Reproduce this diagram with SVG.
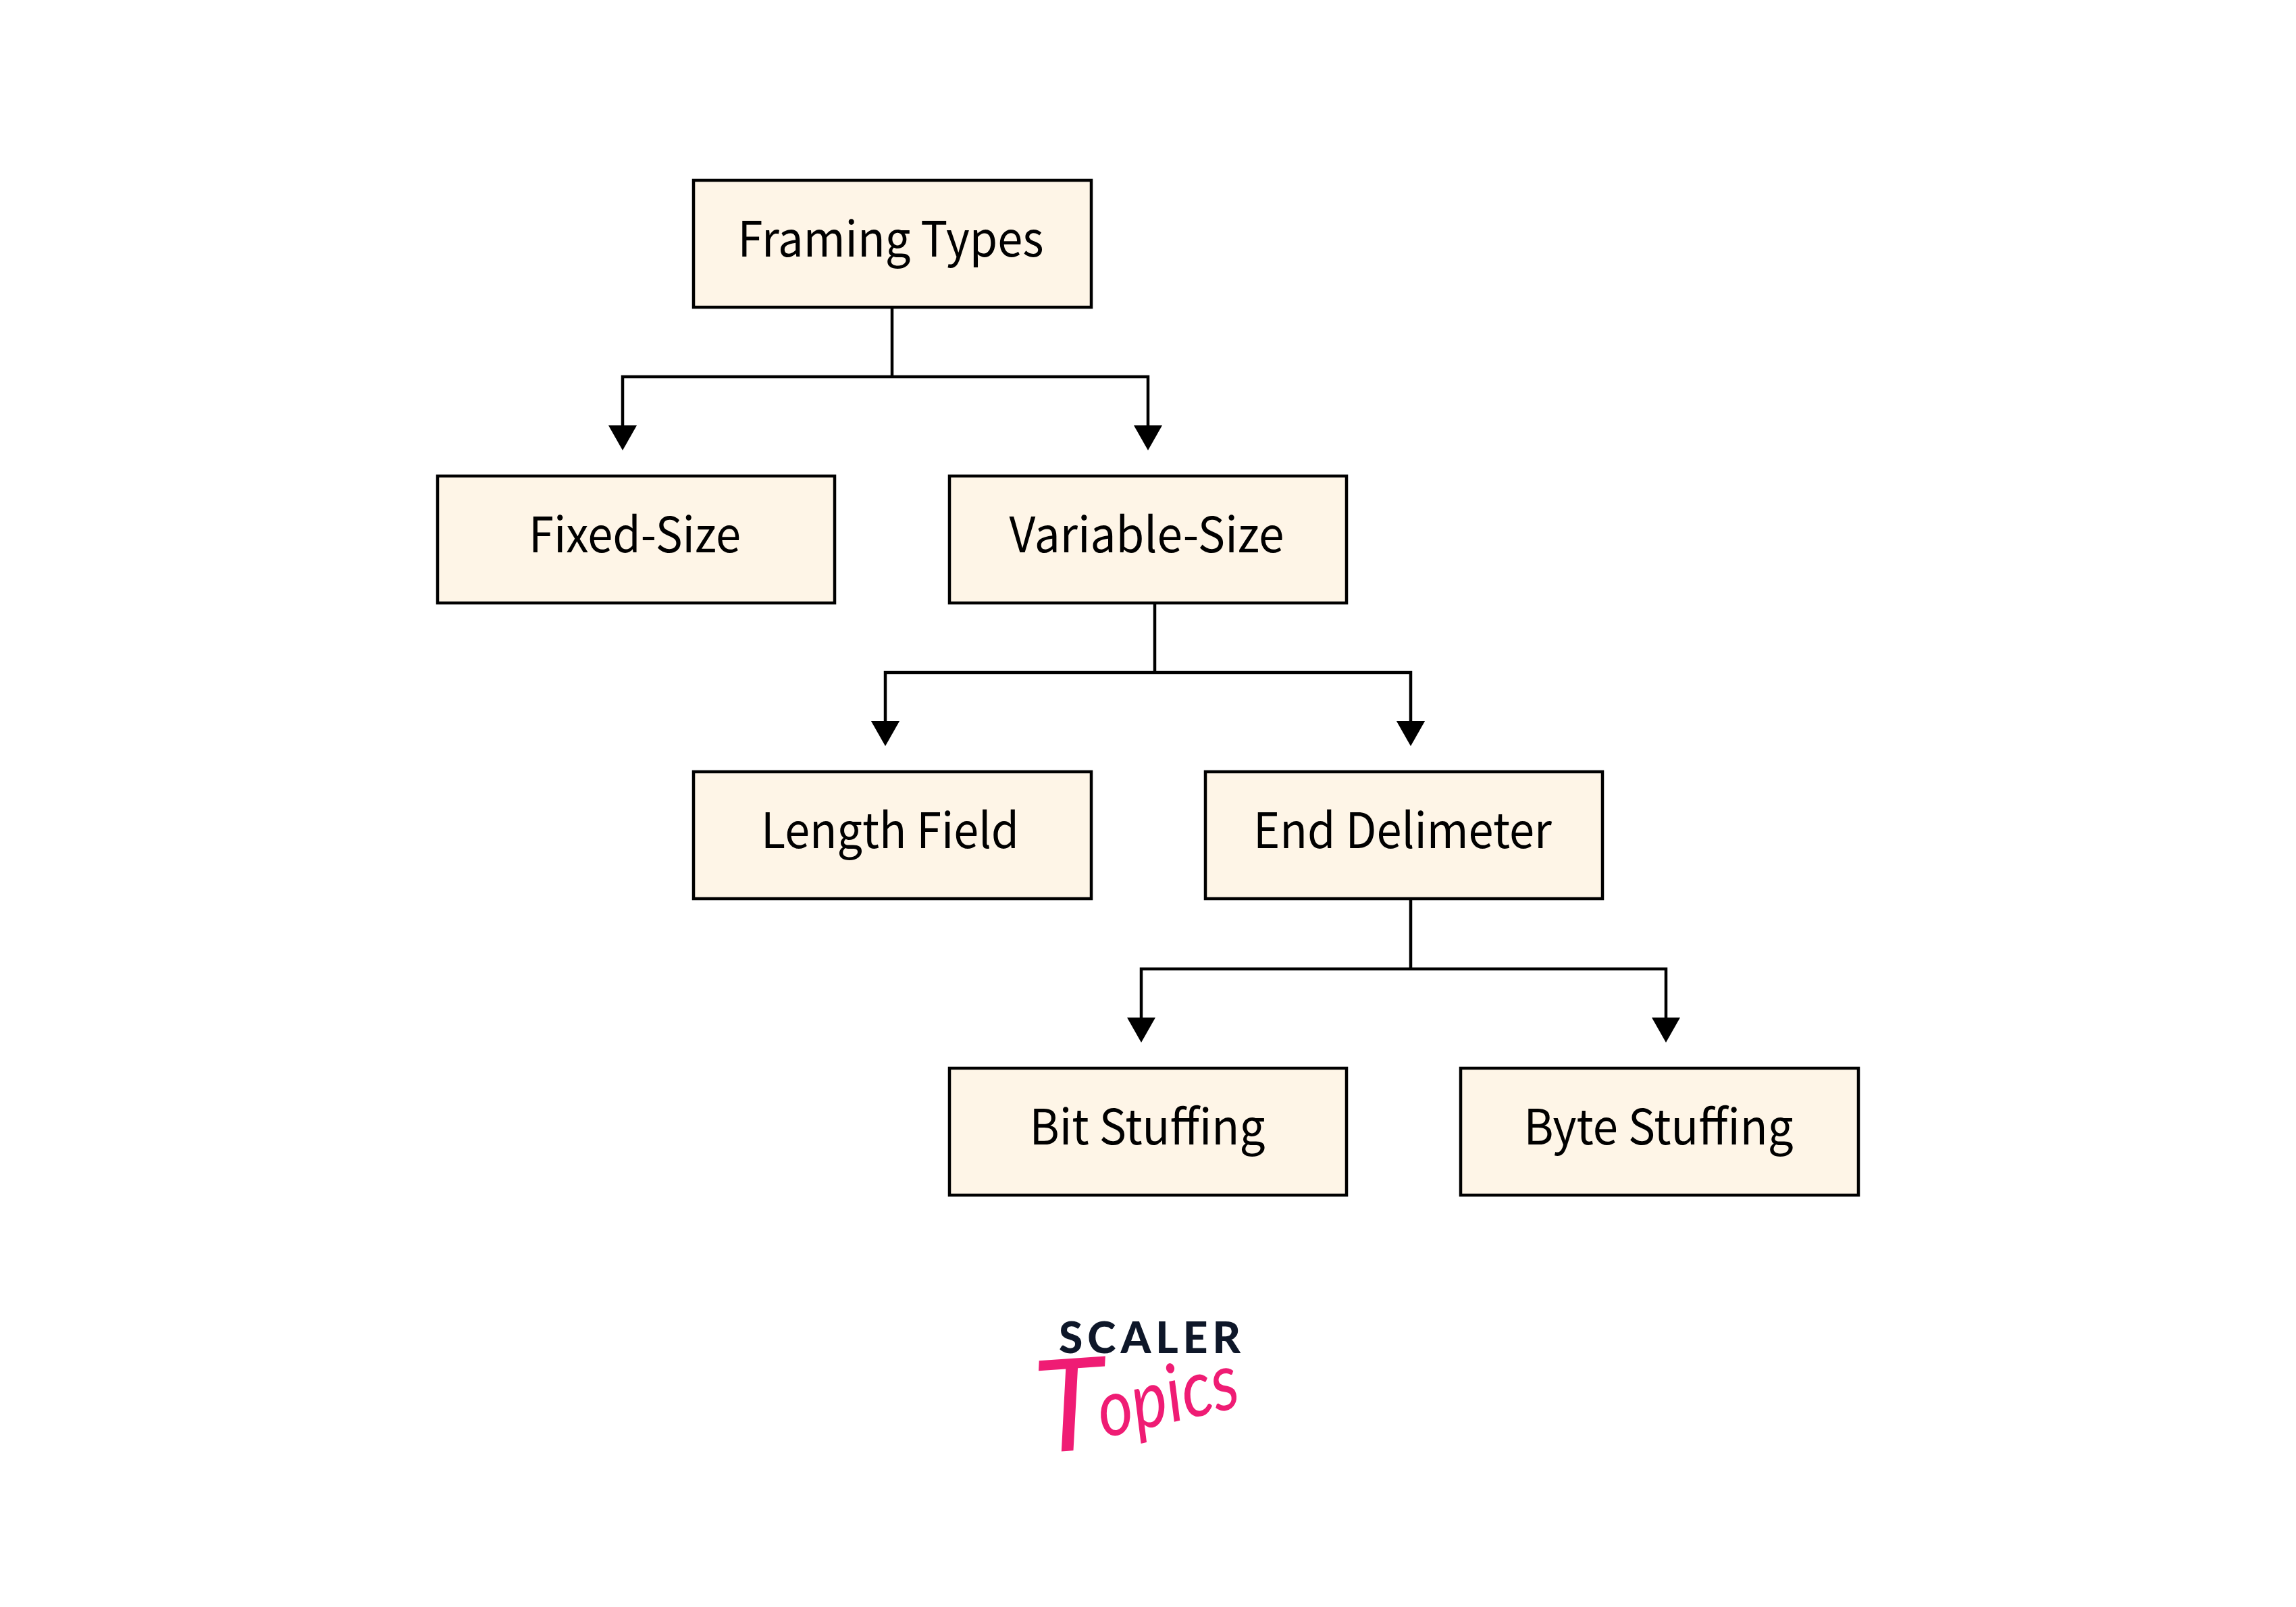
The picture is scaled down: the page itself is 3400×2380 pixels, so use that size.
<svg xmlns="http://www.w3.org/2000/svg" width="3400" height="2380" viewBox="0 0 3400 2380">
<style>
.box{fill:#fef5e7;stroke:#000;stroke-width:4.5}
.lbl{font-family:"Noto Sans CJK SC","Noto Sans",sans-serif;font-size:72px;fill:#000;text-anchor:middle}
.con{fill:none;stroke:#000;stroke-width:4.5}
.sc{font-family:"Lato","Noto Sans",sans-serif;font-weight:900;font-size:64px;letter-spacing:7px;fill:#0e1729}
.tp{font-family:"Lato","Liberation Sans",sans-serif;font-style:italic;font-weight:400;fill:#ef1c74}
</style>
<rect width="3400" height="2380" fill="#fff"/>
<g id="connectors">
<path class="con" d="M1321 455V558"/>
<path class="con" d="M1321 558H922V640"/><polygon points="901,630 943,630 922,667"/>
<path class="con" d="M1321 558H1700V640"/><polygon points="1679,630 1721,630 1700,667"/>
<path class="con" d="M1710 893V996"/>
<path class="con" d="M1710 996H1311V1080"/><polygon points="1290,1068 1332,1068 1311,1105"/>
<path class="con" d="M1710 996H2089V1080"/><polygon points="2068,1068 2110,1068 2089,1105"/>
<path class="con" d="M2089 1331V1435"/>
<path class="con" d="M2089 1435H1690V1520"/><polygon points="1669,1507 1711,1507 1690,1544"/>
<path class="con" d="M2089 1435H2467V1520"/><polygon points="2446,1507 2488,1507 2467,1544"/>
</g>
<g id="n1"><rect class="box" x="1027" y="267" width="589" height="188"/><text class="lbl" x="1319" y="380" textLength="453" lengthAdjust="spacingAndGlyphs">Framing Types</text></g>
<g id="n2"><rect class="box" x="648" y="705" width="588" height="188"/><text class="lbl" x="940" y="818" textLength="314" lengthAdjust="spacingAndGlyphs">Fixed-Size</text></g>
<g id="n3"><rect class="box" x="1406" y="705" width="588" height="188"/><text class="lbl" x="1698" y="818" textLength="407" lengthAdjust="spacingAndGlyphs">Variable-Size</text></g>
<g id="n4"><rect class="box" x="1027" y="1143" width="589" height="188"/><text class="lbl" x="1318" y="1256" textLength="382" lengthAdjust="spacingAndGlyphs">Length Field</text></g>
<g id="n5"><rect class="box" x="1785" y="1143" width="588" height="188"/><text class="lbl" x="2077" y="1256" textLength="442" lengthAdjust="spacingAndGlyphs">End Delimeter</text></g>
<g id="n6"><rect class="box" x="1406" y="1582" width="588" height="188"/><text class="lbl" x="1699" y="1695" textLength="349" lengthAdjust="spacingAndGlyphs">Bit Stuffing</text></g>
<g id="n7"><rect class="box" x="2163" y="1582" width="589" height="188"/><text class="lbl" x="2456" y="1695" textLength="399" lengthAdjust="spacingAndGlyphs">Byte Stuffing</text></g>
<g id="logo">
<text class="sc" x="1568" y="2004">SCALER</text>
<text class="tp" transform="translate(1536 2152) rotate(-4)" font-size="190" font-weight="300">T</text>
<text class="tp" transform="translate(1634 2130) rotate(-13)" font-size="118" textLength="212" lengthAdjust="spacingAndGlyphs">opics</text>
</g>
</svg>
